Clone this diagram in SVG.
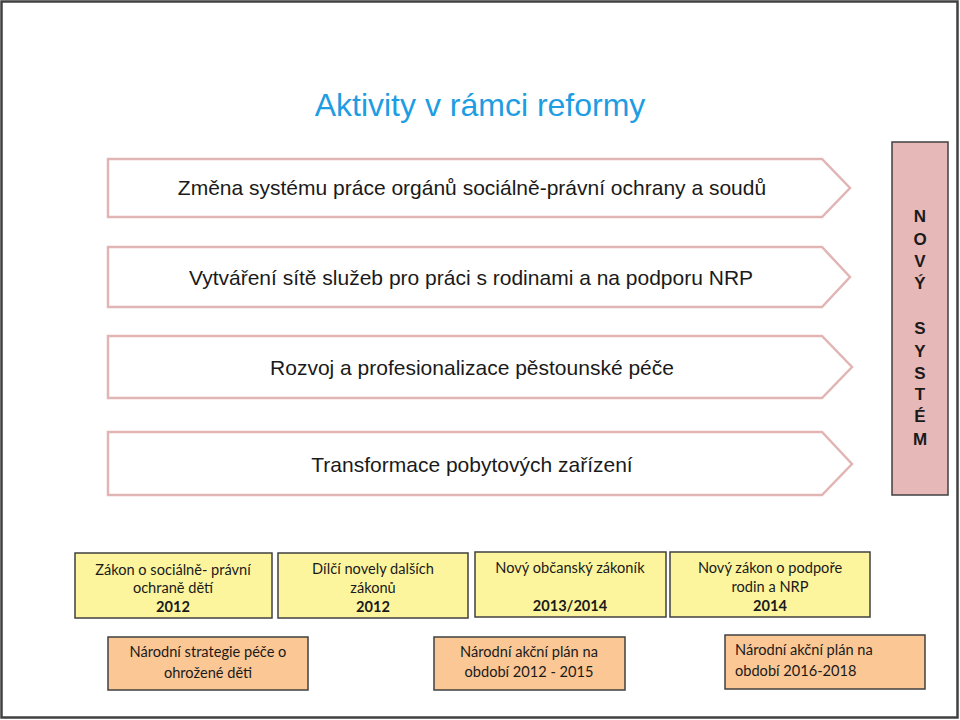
<svg xmlns="http://www.w3.org/2000/svg" width="960" height="720" viewBox="0 0 960 720">
<style>
.chev{fill:#ffffff;stroke:#e2b5b5;stroke-width:2.5}
.ct{font-family:"Liberation Sans",Arial,sans-serif;font-size:21px;fill:#1a1a1a;text-anchor:middle}
.yb{fill:#fdf59e;stroke:#404040;stroke-width:1.5}
.ob{fill:#fbc795;stroke:#404040;stroke-width:1.5}
.bt{font-family:Lato,"Liberation Sans",sans-serif;font-size:14.6px;fill:#1a1a1a;text-anchor:middle}
.lt{font-family:Lato,"Liberation Sans",sans-serif;font-size:14.6px;fill:#1a1a1a;text-anchor:start}
.b{font-weight:bold}
.sys{font-family:"Liberation Sans",Arial,sans-serif;font-size:17px;font-weight:bold;fill:#1a1a1a;text-anchor:middle}
</style>
<rect x="1.5" y="1.5" width="956" height="716" fill="#ffffff" stroke="#404040" stroke-width="2.5"/>
<text x="480" y="116" font-family="'Liberation Sans',Arial,sans-serif" font-size="32" fill="#1e9de2" text-anchor="middle">Aktivity v rámci reformy</text>

<g id="chev1">
<polygon class="chev" points="108,159 822,159 850,188 822,217 108,217"/>
<text class="ct" x="472" y="195">Změna systému práce orgánů sociálně-právní ochrany a soudů</text>
</g>
<g id="chev2">
<polygon class="chev" points="108,247 822,247 850,277 822,307 108,307"/>
<text class="ct" x="471" y="285">Vytváření sítě služeb pro práci s rodinami a na podporu NRP</text>
</g>
<g id="chev3">
<polygon class="chev" points="108,336 822,336 852,367 822,398 108,398"/>
<text class="ct" x="472" y="375">Rozvoj a profesionalizace pěstounské péče</text>
</g>
<g id="chev4">
<polygon class="chev" points="108,432 822,432 852,464 822,495 108,495"/>
<text class="ct" x="472" y="472">Transformace pobytových zařízení</text>
</g>

<g id="novy-system">
<rect x="892" y="142" width="56" height="353" fill="#e6b8b7" stroke="#404040" stroke-width="1.5"/>
<text class="sys" x="920" y="222">N</text>
<text class="sys" x="920" y="245">O</text>
<text class="sys" x="920" y="267">V</text>
<text class="sys" x="920" y="289">Ý</text>
<text class="sys" x="920" y="334">S</text>
<text class="sys" x="920" y="357">Y</text>
<text class="sys" x="920" y="379">S</text>
<text class="sys" x="920" y="400">T</text>
<text class="sys" x="920" y="422">É</text>
<text class="sys" x="920" y="445">M</text>
</g>

<g id="y1">
<rect class="yb" x="75" y="553" width="197" height="65"/>
<text class="bt" x="173" y="575">Zákon o sociálně- právní</text>
<text class="bt" x="173" y="593">ochraně dětí</text>
<text class="bt b" x="173" y="612">2012</text>
</g>
<g id="y2">
<rect class="yb" x="278" y="553" width="190" height="65"/>
<text class="bt" x="373" y="574">Dílčí novely dalších</text>
<text class="bt" x="373" y="593">zákonů</text>
<text class="bt b" x="373" y="612">2012</text>
</g>
<g id="y3">
<rect class="yb" x="475" y="552" width="191" height="65"/>
<text class="bt" x="570" y="573">Nový občanský zákoník</text>
<text class="bt b" x="570" y="611">2013/2014</text>
</g>
<g id="y4">
<rect class="yb" x="670" y="552" width="200" height="65"/>
<text class="bt" x="770" y="573">Nový zákon o podpoře</text>
<text class="bt" x="770" y="592">rodin a NRP</text>
<text class="bt b" x="770" y="611">2014</text>
</g>

<g id="o1">
<rect class="ob" x="108" y="637" width="200" height="53"/>
<text class="bt" x="208" y="657">Národní strategie péče o</text>
<text class="bt" x="208" y="678">ohrožené děti</text>
</g>
<g id="o2">
<rect class="ob" x="434" y="637" width="191" height="53"/>
<text class="bt" x="529" y="657">Národní akční plán na</text>
<text class="bt" x="529" y="677">období 2012 - 2015</text>
</g>
<g id="o3">
<rect class="ob" x="725" y="635" width="200" height="54"/>
<text class="lt" x="735" y="655">Národní akční plán na</text>
<text class="lt" x="735" y="676">období 2016-2018</text>
</g>
<g id="connectors"></g>
</svg>
